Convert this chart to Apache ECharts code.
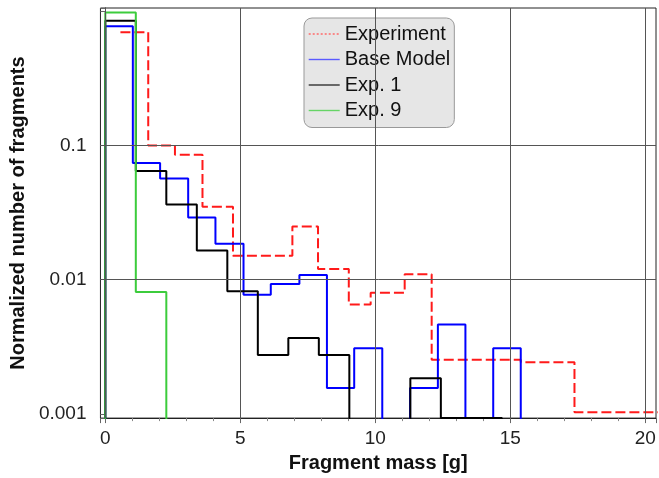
<!DOCTYPE html>
<html>
<head>
<meta charset="utf-8">
<script src="https://cdn.jsdelivr.net/npm/echarts@6/dist/echarts.min.js"></script>
<style>
  html, body { margin: 0; padding: 0; background: #fff; }
  #chart { width: 659px; height: 478px; }
</style>
</head>
<body>
<div id="chart"></div>
<script>
// empty bins sit below the log axis and get clipped away
const FLOOR = 0.0001
const AXIS_FLOOR = 0.00093

// bin edges [g] and normalized counts
const expEdges = [0.56, 1.59, 2.58, 3.6, 4.73, 6.93, 7.88, 9.02, 9.83, 11.09, 12.09, 15.39, 17.38, 21]
const expValues = [0.70, 0.1, 0.0853, 0.035, 0.0151, 0.0249, 0.012, 0.00653, 0.0080, 0.0110, 0.00253, 0.00243, 0.00103]

const baseEdges = [0, 1.02, 2.03, 3.07, 4.08, 5.12, 6.13, 7.19, 8.21, 9.22, 10.26, 11.29, 12.32, 13.34, 14.37, 15.39]
const baseValues = [0.774, 0.0741, 0.0567, 0.0291, 0.0185, 0.00774, 0.00929, 0.01084, 0.00156, 0.00308, FLOOR, 0.00156, 0.00464, FLOOR, 0.00308]

const exp1Edges = [0, 1.13, 2.26, 3.39, 4.52, 5.65, 6.78, 7.91, 9.04, 10.17, 11.30, 12.43, 13.56, 14.69]
const exp1Values = [0.853, 0.0646, 0.0364, 0.0165, 0.0082, 0.00275, 0.00368, 0.00275, FLOOR, FLOOR, 0.00184, AXIS_FLOOR, AXIS_FLOOR]

const exp9Edges = [0, 1.13, 2.26]
const exp9Values = [0.983, 0.0081]

const xTicks = [0, 5, 10, 15, 20]
const yTicks = [0.001, 0.01, 0.1]
const yTickLabels = ['0.001', '0.01', '0.1']

const FONT = 'Liberation Sans, Arial, sans-serif'

// histogram outline: flat top over each bin, verticals between bins
function stepPoints(edges, values, rise, drop) {
  const pts = []
  if (rise) pts.push([edges[0], FLOOR])
  values.forEach((v, i) => {
    pts.push([edges[i], v])
    pts.push([edges[i + 1], v])
  })
  if (drop) pts.push([edges[edges.length - 1], FLOOR])
  return pts
}

function stepSeries(name, pts, color, type) {
  return {
    name,
    type: 'line',
    data: pts,
    showSymbol: false,
    symbol: 'none',
    clip: true,
    lineStyle: { color, width: 2, type: type || 'solid' },
    itemStyle: { color }
  }
}

const chart = echarts.init(document.getElementById('chart'))

chart.setOption({
  animation: false,
  textStyle: { fontFamily: FONT },
  grid: {
    left: 97, right: 0, top: 8, bottom: 57,
    show: true, borderColor: '#222', borderWidth: 1
  },
  legend: {
    orient: 'vertical',
    left: 304, top: 18,
    padding: [6, 4, 7, 4],
    itemGap: 5.5,
    itemWidth: 31,
    itemHeight: 10,
    backgroundColor: 'rgba(200,200,200,0.45)',
    borderColor: '#999',
    borderWidth: 1,
    borderRadius: 8,
    textStyle: { fontSize: 20, lineHeight: 20, color: '#111', fontFamily: FONT },
    itemStyle: { opacity: 0 },
    lineStyle: { width: 1.4 },
    data: [
      { name: 'Experiment', lineStyle: { type: [2, 2], color: '#ff6a6a' } },
      { name: 'Base Model', lineStyle: { color: '#5a5aff' } },
      { name: 'Exp. 1', lineStyle: { color: '#333' } },
      { name: 'Exp. 9', lineStyle: { color: '#66d466' } }
    ]
  },
  xAxis: {
    type: 'value',
    min: -0.18,
    max: 20.4,
    name: 'Fragment mass [g]',
    nameLocation: 'middle',
    nameGap: 33,
    nameTextStyle: { fontSize: 20, fontWeight: 'bold', color: '#111', fontFamily: FONT },
    axisLine: { lineStyle: { color: '#222', width: 1 } },
    axisTick: { show: true, length: 5, lineStyle: { color: '#666' } },
    minorTick: { show: true, splitNumber: 5, length: 3, lineStyle: { color: '#888' } },
    splitLine: { show: false },
    axisLabel: {
      fontSize: 19, color: '#222', margin: 11, fontFamily: FONT,
      formatter: v => xTicks.some(t => Math.abs(t - v) < 1e-6) ? String(Math.round(v)) : ''
    }
  },
  yAxis: {
    type: 'log',
    logBase: 10,
    min: AXIS_FLOOR,
    max: 1.06,
    name: 'Normalized number of fragments',
    nameLocation: 'middle',
    nameGap: 70,
    nameTextStyle: { fontSize: 20, fontWeight: 'bold', color: '#111', fontFamily: FONT },
    axisLine: { show: true, lineStyle: { color: '#222', width: 1 } },
    axisTick: { show: true, length: 5, lineStyle: { color: '#666' } },
    splitLine: { show: false },
    axisLabel: {
      fontSize: 19, color: '#222', margin: 14, fontFamily: FONT,
      formatter: v => {
        const i = yTicks.findIndex(t => Math.abs(Math.log10(t) - Math.log10(v)) < 1e-6)
        return i >= 0 ? yTickLabels[i] : ''
      }
    }
  },
  series: [
    // grid lines drawn as mark lines so only the labelled decades get one
    {
      name: 'grid',
      type: 'line',
      data: [],
      silent: true,
      markLine: {
        silent: true,
        symbol: 'none',
        label: { show: false },
        lineStyle: { color: '#555', width: 1, type: 'solid' },
        data: yTicks.map(v => ({ yAxis: v })).concat(xTicks.map(v => ({ xAxis: v })))
      }
    },
    stepSeries('Experiment', stepPoints(expEdges, expValues, false, false), '#ff1a1a', [10, 4]),
    stepSeries('Base Model', stepPoints(baseEdges, baseValues, true, true), '#0000ff'),
    stepSeries('Exp. 1', stepPoints(exp1Edges, exp1Values, true, true), '#000000'),
    stepSeries('Exp. 9', stepPoints(exp9Edges, exp9Values, true, true), '#3ccc3c')
  ]
})

window.addEventListener('resize', () => chart.resize())
</script>
</body>
</html>
